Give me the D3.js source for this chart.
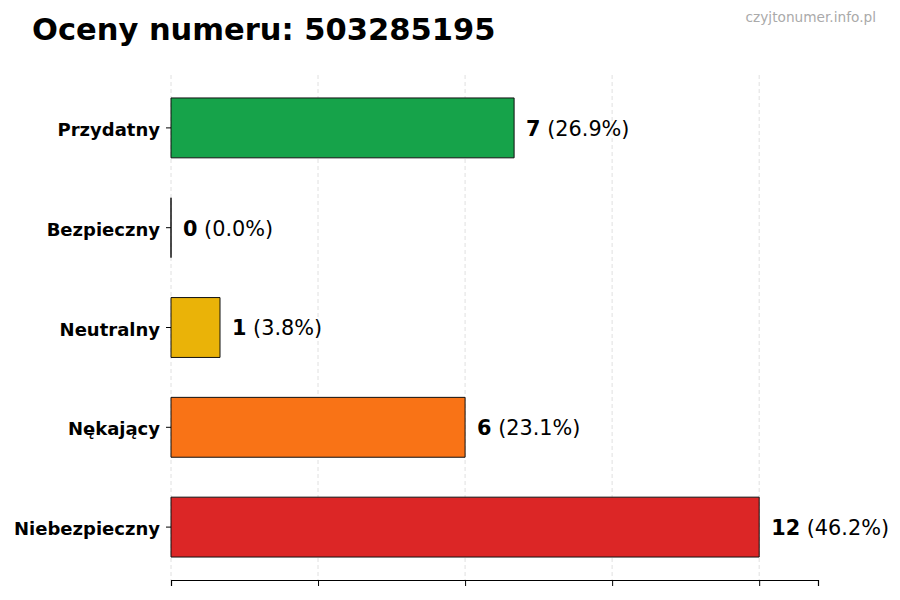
<!DOCTYPE html>
<html>
<head>
<meta charset="utf-8">
<script src="https://cdn.jsdelivr.net/npm/d3@7"></script>
<style>
  body { margin: 0; background: #fff; }
  svg { font-family: "DejaVu Sans", sans-serif; }
</style>
</head>
<body>
<svg id="chart" width="900" height="600"></svg>
<script>
var categories = ["Przydatny", "Bezpieczny", "Neutralny", "Nękający", "Niebezpieczny"];
var counts = [7, 0, 1, 6, 12];
var percents = ["26.9%", "0.0%", "3.8%", "23.1%", "46.2%"];
var barColors = ["#16a34a", "#2563eb", "#eab308", "#f97316", "#dc2626"];
var xTicks = [0, 3, 6, 9, 12];

var svg = d3.select("#chart");
var plotLeft = 171, plotRight = 818, plotTop = 75, plotBottom = 580;

var x = d3.scaleLinear().domain([0, 13.2]).range([plotLeft, plotRight]);
var y = d3.scaleBand().domain(categories).range([plotTop, plotBottom])
    .paddingInner(0.4).paddingOuter(0.23);

// title + watermark
svg.append("text")
    .attr("x", 32).attr("y", 40)
    .attr("font-size", 30.5).attr("font-weight", "bold")
    .text("Oceny numeru: 503285195");
svg.append("text")
    .attr("x", 876).attr("y", 22)
    .attr("text-anchor", "end")
    .attr("font-size", 13.7).attr("fill", "#aaaaaa")
    .text("czyjtonumer.info.pl");

// grid
svg.append("g").selectAll("line")
    .data(xTicks)
    .enter().append("line")
        .attr("x1", function (d) { return x(d); })
        .attr("x2", function (d) { return x(d); })
        .attr("y1", plotTop).attr("y2", plotBottom)
        .attr("stroke", "#d8d8d8")
        .attr("stroke-width", 0.8)
        .attr("stroke-dasharray", "4,3");

// bars (as paths so a zero-width bar still shows its edge)
svg.append("g").selectAll("path")
    .data(categories)
    .enter().append("path")
        .attr("d", function (d, i) {
            var w = x(counts[i]) - x(0), h = y.bandwidth();
            return "M" + x(0) + "," + y(d) + "h" + w + "v" + h + "h" + (-w) + "Z";
        })
        .attr("fill", function (d, i) { return barColors[i]; })
        .attr("stroke", "#111")
        .attr("stroke-width", 1);

// value labels
var lab = svg.append("g").selectAll("text")
    .data(categories)
    .enter().append("text")
        .attr("x", function (d, i) { return x(counts[i]) + 12; })
        .attr("y", function (d) { return y(d) + y.bandwidth() / 2; })
        .attr("dy", "0.38em")
        .attr("font-size", 20.8);
lab.append("tspan").attr("font-weight", "bold").text(function (d, i) { return counts[i]; });
lab.append("tspan").text(function (d, i) { return " (" + percents[i] + ")"; });

// x axis
var xAxis = svg.append("g")
    .attr("transform", "translate(0," + plotBottom + ")")
    .call(d3.axisBottom(x).tickValues(xTicks).tickFormat("").tickSizeOuter(0).tickSize(6));
xAxis.select(".domain").attr("stroke", "#000").attr("stroke-width", 1.2);
xAxis.selectAll(".tick line").attr("stroke", "#000");

// y axis (no spine)
var yAxis = svg.append("g")
    .attr("transform", "translate(" + plotLeft + ",0)")
    .call(d3.axisLeft(y).tickSize(5).tickPadding(6));
yAxis.select(".domain").remove();
yAxis.selectAll(".tick line").attr("stroke", "#000");
yAxis.selectAll(".tick text")
    .attr("dy", "0.45em")
    .attr("font-size", 18).attr("font-weight", "bold")
    .attr("fill", "#000")
    .attr("font-family", "DejaVu Sans, sans-serif");
</script>
</body>
</html>
